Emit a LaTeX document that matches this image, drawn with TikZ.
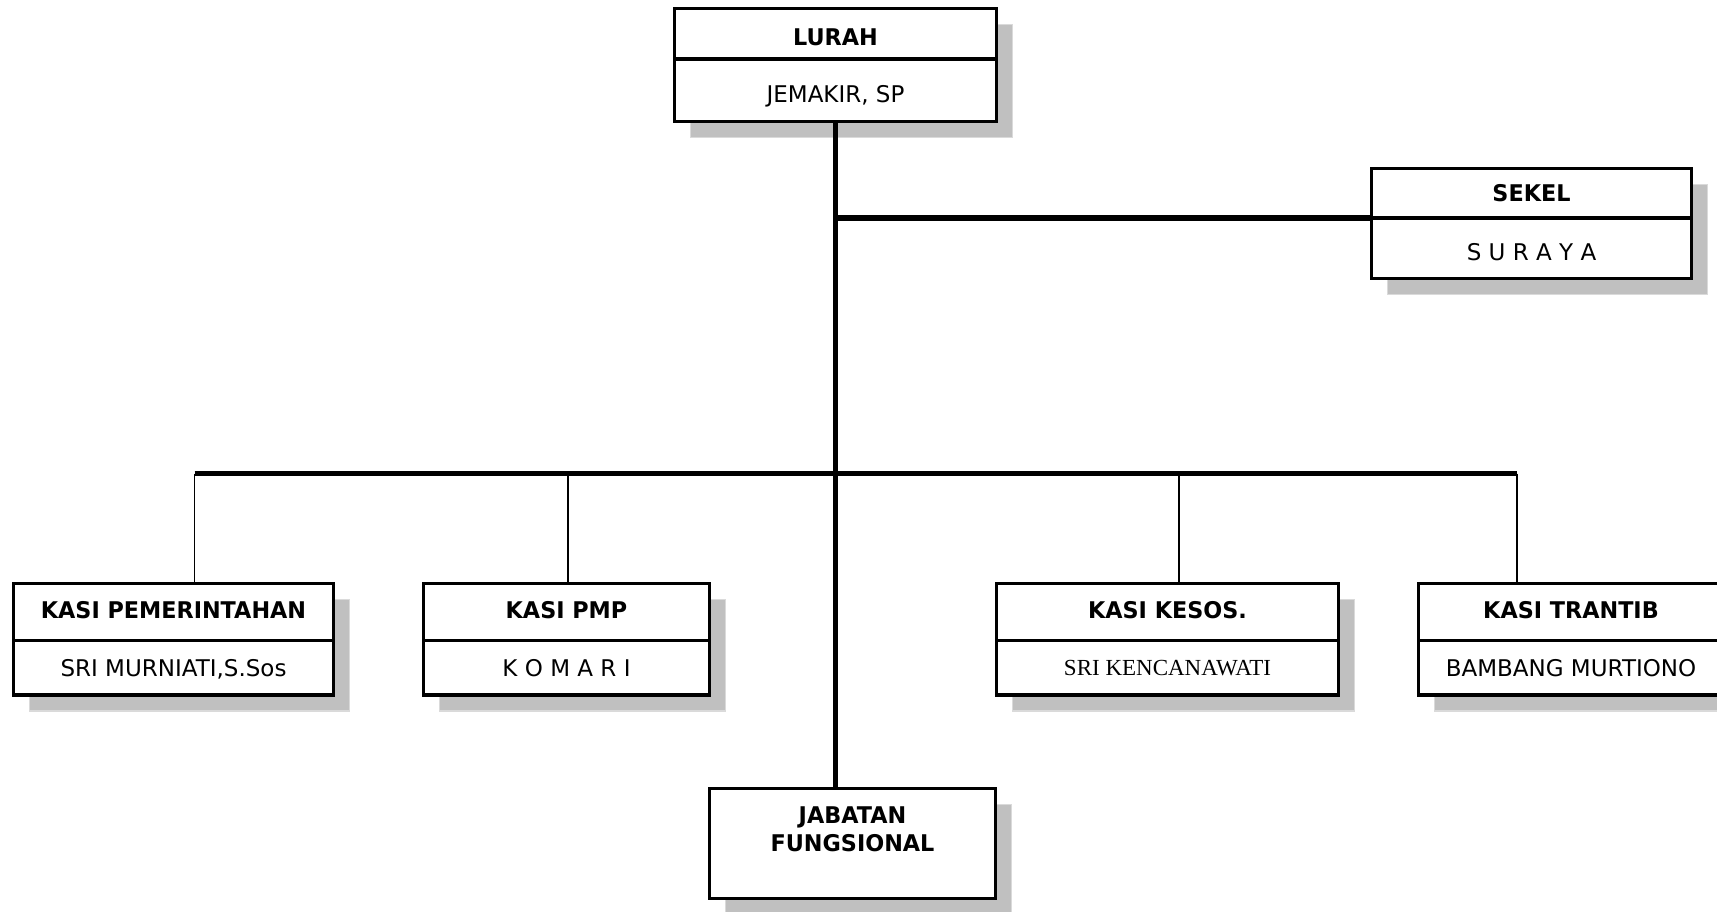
\documentclass[tikz,border=0pt]{standalone}
\usepackage{fontspec}
\setmainfont{DejaVu Sans}[BoldFeatures={FakeStretch=0.97}]
\newfontfamily\timesfont{Liberation Serif}
\usetikzlibrary{positioning}
\usetikzlibrary{backgrounds}
\usetikzlibrary{calc}
\definecolor{shadowgray}{RGB}{192,192,192}
\definecolor{shadowedge}{RGB}{218,218,218}
\tikzset{
    mytitle/.style = {rectangle, line width=3.4pt, draw=black, fill=white, align=center, inner sep=0pt, outer sep=0pt, font=\bfseries},
    myname/.style = {rectangle, line width=3.4pt, draw=black, fill=white, align=center, inner sep=0pt, outer sep=0pt, caps=25pt},
    caps/.style = {text height=#1, text depth=0pt},
    myshadow/.style = {fill=shadowgray, draw=shadowedge, line width=1.5pt},
    edgen/.style = {-, line width=5.5pt, black}, % main lines
    edget/.style = {-, line width=1.8pt, black}, % thin taps
    every picture/.style={font issue=\fontsize{23}{28}},
    font issue/.style={execute at begin picture={#1\selectfont}}
}

\begin{document}
\begin{tikzpicture}[x=1pt, y=-1pt]
  \useasboundingbox (0,0) rectangle (1717,911);
  % top
  \node[mytitle, caps=23pt, minimum width=322, minimum height=50.5] (lurah) at (835.5,33.75) {LURAH};
  \node[myname, minimum width=322, minimum height=62.5, below=0pt of lurah] (lurahnm) {JEMAKIR, SP};
  \node[mytitle, caps=17pt, minimum width=320, minimum height=49.5] (sekel) at (1531.5,193.25) {SEKEL};
  \node[myname, minimum width=320, minimum height=60.5, below=0pt of sekel] (sekelnm) {S U R A Y A};
  % kasi row
  \node[mytitle, caps=13pt, minimum width=320, minimum height=57] (pem) at (173.5,612) {KASI PEMERINTAHAN};
  \node[myname, caps=17pt, minimum width=320, minimum height=54.5, below=0pt of pem] (pemnm) {SRI MURNIATI,S.Sos};
  \node[mytitle, caps=13pt, minimum width=286, minimum height=57] (pmp) at (566.5,612) {KASI PMP};
  \node[myname, caps=17pt, minimum width=286, minimum height=54.5, below=0pt of pmp] (pmpnm) {K O M A R I};
  \node[mytitle, caps=13pt, minimum width=342, minimum height=57] (kesos) at (1167.5,612) {KASI KESOS.};
  \node[myname, caps=16pt, minimum width=342, minimum height=54.5, below=0pt of kesos, font=\timesfont] (kesosnm) {SRI KENCANAWATI};
  \node[mytitle, caps=13pt, minimum width=305, minimum height=57] (trantib) at (1571,612) {KASI TRANTIB};
  \node[myname, caps=17pt, minimum width=305, minimum height=54.5, below=0pt of trantib] (trantibnm) {BAMBANG MURTIONO};
  % bottom
  \node[mytitle, minimum width=286, minimum height=110] (jab) at (852.5,843.5) {JABATAN\\FUNGSIONAL\\\mbox{}};
  \begin{scope}[on background layer]
    \foreach \t/\b in {lurah/lurahnm, sekel/sekelnm, pem/pemnm, pmp/pmpnm, kesos/kesosnm, trantib/trantibnm, jab/jab}
      \draw[myshadow] ($(\t.north west)+(16,16)$) rectangle ($(\b.south east)+(16,16)$);
  \end{scope}
  % lines
  \coordinate (tap1) at (194.5,473.5);
  \coordinate (tap2) at (568,473.5);
  \coordinate (tap3) at (1179,473.5);
  \coordinate (tap4) at (1517,473.5);
  \draw[edgen] (lurahnm.south) -- (lurahnm.south |- jab.north);
  \draw[edgen] (sekel.south west) -- (sekel.south west -| lurahnm.south);
  \draw[edgen] (tap1) -- (tap4);
  \foreach \t/\b in {tap1/pem, tap2/pmp, tap3/kesos, tap4/trantib}
    \draw[edget] (\t) -- (\t |- \b.north);
\end{tikzpicture}
\end{document}
